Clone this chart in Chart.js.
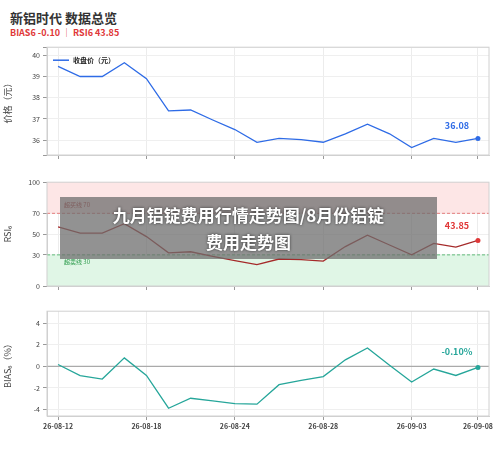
<!DOCTYPE html>
<html><head><meta charset="utf-8">
<script src="https://cdn.jsdelivr.net/npm/chart.js@4"></script>
<style>
body{margin:0;width:500px;height:458px;background:#fff;position:relative;font-family:"Noto Sans CJK SC","Noto Sans",sans-serif;overflow:hidden}
.c{position:absolute;left:0;width:500px}
#t{position:absolute;left:10px;top:8px;font-size:13px;font-weight:bold;color:#333}
#s{position:absolute;left:10px;top:26px;font-size:9px;font-weight:bold;color:#e03838}
#b{position:absolute;left:60px;top:197px;width:377px;height:62px;background:rgba(110,110,110,0.75);color:#fff;font-weight:bold;font-size:17px;text-align:center;line-height:27px;padding-top:4px;box-sizing:border-box;text-shadow:0 0 3px #333;z-index:5}
</style></head><body>
<div id="t">新铝时代 数据总览</div>
<div id="s">BIAS6 -0.10 │ RSI6 43.85</div>
<div class="c" style="top:40px;height:123px"><canvas id="c1"></canvas></div>
<div class="c" style="top:175px;height:119px"><canvas id="c2"></canvas></div>
<div class="c" style="top:304px;height:132px"><canvas id="c3"></canvas></div>
<div id="b">九月铝锭费用行情走势图/8月份铝锭<br>费用走势图</div>
<script>
const dates=["26-08-12","26-08-13","26-08-14","26-08-17","26-08-18","26-08-19","26-08-20","26-08-21","26-08-24","26-08-25","26-08-26","26-08-27","26-08-28","26-08-31","26-09-01","26-09-02","26-09-03","26-09-04","26-09-07","26-09-08"];
const price=[39.48,39.0,39.0,39.65,38.9,37.38,37.42,36.95,36.5,35.9,36.08,36.02,35.9,36.3,36.75,36.3,35.65,36.08,35.9,36.08];
const rsi=[57,51,51,60,47.6,32,33,28.5,24.5,20.6,26,25.5,24,38,49,39.5,30,41,37.5,43.85];
const bias=[0.17,-0.87,-1.18,0.78,-0.85,-3.88,-2.96,-3.2,-3.45,-3.5,-1.7,-1.3,-0.95,0.6,1.7,0.1,-1.45,-0.25,-0.85,-0.10];
const shownTicks=[0,4,8,12,16,19];
const F='"Noto Sans CJK SC","Noto Sans",sans-serif';
Chart.defaults.font.family=F;Chart.defaults.color='#444';
const frame={id:'frame',afterDraw(c){const a=c.chartArea,x=c.ctx;x.save();x.strokeStyle='#d0d0d0';x.lineWidth=1;x.strokeRect(a.left,a.top,a.right-a.left,a.bottom-a.top);x.restore();}};
function lastLabel(text,color,dy){return{id:'ll',afterDatasetsDraw(c){const m=c.getDatasetMeta(0).data;const p=m[m.length-1];const x=c.ctx;x.save();x.fillStyle=color;x.font='bold 9px '+F;x.textAlign='center';x.fillText(text,p.x-21,p.y+dy);x.beginPath();x.arc(p.x,p.y,2.5,0,7);x.fill();x.restore();}};}
function mk(id,data,color,min,max,title,xh,showX,extra,yopts){
 return new Chart(document.getElementById(id),{type:'line',
 data:{labels:dates,datasets:[{data,borderColor:color,borderWidth:1.3,pointRadius:0,tension:0,fill:false}]},
 options:{responsive:true,maintainAspectRatio:false,animation:false,
 layout:{padding:{top:6,right:11,left:0,bottom:0}},
 plugins:{legend:{display:false},tooltip:{enabled:false}},
 scales:{x:{offset:true,grid:{color:(ctx)=>shownTicks.includes(ctx.index)?'#ececec':'rgba(0,0,0,0)',tickLength:4,tickColor:(ctx)=>shownTicks.includes(ctx.index)?'#999':'rgba(0,0,0,0)'},border:{color:'#d0d0d0'},
   afterFit(s){s.height=xh;},
   ticks:{autoSkip:false,maxRotation:0,font:{size:7,weight:'bold'},color:'#444',padding:2,display:showX,
   callback:(v,i)=>shownTicks.includes(i)?dates[i]:''}},
  y:Object.assign({min,max,grid:{color:'#efefef',tickLength:4,tickColor:'#999'},border:{color:'#d0d0d0'},
   afterFit(s){s.width=47;},
   title:{display:true,text:title,font:{size:9},color:'#444',padding:2},
   ticks:{font:{size:7},color:'#444',padding:3}},yopts||{})}},
 plugins:[frame].concat(extra)});
}
const legend={id:'lg',afterDraw(c){const a=c.chartArea,x=c.ctx;x.save();x.strokeStyle='#2e6be6';x.lineWidth=1.5;x.beginPath();x.moveTo(a.left+6,a.top+13);x.lineTo(a.left+22,a.top+13);x.stroke();x.fillStyle='#222';x.font='bold 7px '+F;x.textBaseline='middle';x.fillText('收盘价（元）',a.left+26,a.top+13);x.restore();}};
mk('c1',price,'#2e6be6',35.3,40.38,'价格（元）',8,false,[legend,lastLabel('36.08','#2e6be6',-9)],{ticks:{font:{size:7},color:'#444',padding:3,stepSize:1,callback:v=>Number.isInteger(v)?v:''}});
const zones={id:'z',beforeDatasetsDraw(c){const a=c.chartArea,y=c.scales.y,x=c.ctx;x.save();
 x.fillStyle='#fde6e6';x.fillRect(a.left,y.getPixelForValue(100),a.right-a.left,y.getPixelForValue(70)-y.getPixelForValue(100));
 x.fillStyle='#e0f6e6';x.fillRect(a.left,y.getPixelForValue(30),a.right-a.left,y.getPixelForValue(0)-y.getPixelForValue(30));
 x.setLineDash([3,2]);x.lineWidth=0.8;
 x.strokeStyle='#e06060';x.beginPath();x.moveTo(a.left,y.getPixelForValue(70));x.lineTo(a.right,y.getPixelForValue(70));x.stroke();
 x.strokeStyle='#40b060';x.beginPath();x.moveTo(a.left,y.getPixelForValue(30));x.lineTo(a.right,y.getPixelForValue(30));x.stroke();
 x.setLineDash([]);x.font='6px '+F;x.fillStyle='#b03030';x.fillText('超买线 70',a.left+17,y.getPixelForValue(70)-6);
 x.fillStyle='#2a9a4a';x.fillText('超卖线 30',a.left+17,y.getPixelForValue(30)+9);x.restore();}};
mk('c2',rsi,'#a52a2a',0,100,'RSI₆',8,false,[zones,lastLabel('43.85','#e03838',-11)],{afterBuildTicks(s){s.ticks=[0,30,50,70,100].map(v=>({value:v}));}});
const zero={id:'zl',beforeDatasetsDraw(c){const a=c.chartArea,y=c.scales.y,x=c.ctx;x.save();x.strokeStyle='#aaa';x.lineWidth=1.2;x.beginPath();x.moveTo(a.left,y.getPixelForValue(0));x.lineTo(a.right,y.getPixelForValue(0));x.stroke();x.restore();}};
mk('c3',bias,'#26a69a',-4.6,5.1,'BIAS₆（%）',20,true,[zero,lastLabel('-0.10%','#26a69a',-12)],{afterBuildTicks(s){s.ticks=[-4,-2,0,2,4].map(v=>({value:v}));}});
</script></body></html>
